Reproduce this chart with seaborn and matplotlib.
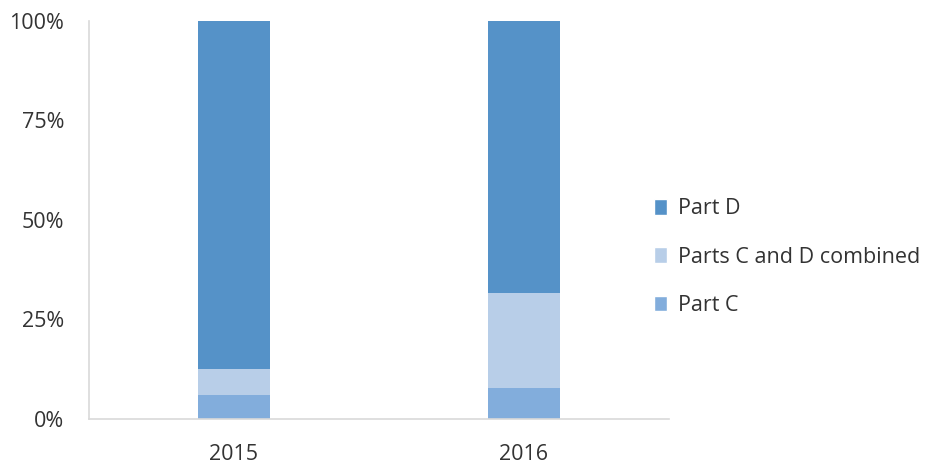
import matplotlib
matplotlib.use("Agg")
import matplotlib.pyplot as plt
import seaborn as sns
import pandas as pd
from matplotlib.patches import Patch
from matplotlib.ticker import FuncFormatter

years = ["2015", "2016"]
part_c = [5.9, 7.7]
combined = [6.5, 23.8]
part_d = [87.6, 68.5]
series_names = ["Part C", "Parts C and D combined", "Part D"]
colors = ["#82ADDC", "#B8CEE8", "#5592C8"]
yticks = [0, 25, 50, 75, 100]

sns.set_style("white")
plt.rcParams['font.family'] = ['Open Sans', 'DejaVu Sans']

fig = plt.figure(figsize=(9.38, 4.65), dpi=100)
ax = fig.add_axes([0.0949, 0.1, 0.618, 0.855])

df = pd.DataFrame({"year": years, "c": part_c, "cd": combined, "d": part_d})
bottom = [0.0] * len(years)
for col, name, colr in zip(["c", "cd", "d"], series_names, colors):
    sns.barplot(data=df, x="year", y=col, bottom=bottom, color=colr, width=0.25,
                ax=ax, saturation=1, edgecolor="none", linewidth=0)
    bottom = [b + v for b, v in zip(bottom, df[col])]

ax.set_ylim(0, 100)
ax.set_xlim(-0.5, 1.5)
ax.set_yticks(yticks)
ax.yaxis.set_major_formatter(FuncFormatter(lambda v, p: f"{int(v)}%"))
ax.set_xlabel("")
ax.set_ylabel("")
ax.tick_params(axis="both", length=0, labelsize=15.5, colors="#333333")
ax.tick_params(axis="x", pad=18)
ax.tick_params(axis="y", pad=18)
for s in ["top", "right"]:
    ax.spines[s].set_visible(False)
for s in ["left", "bottom"]:
    ax.spines[s].set_color("#D9D9D9")
    ax.spines[s].set_linewidth(1.2)

handles = [Patch(facecolor=c, label=n) for c, n in zip(colors[::-1], series_names[::-1])]
fig.legend(handles=handles, loc="center left", bbox_to_anchor=(0.677, 0.447),
           frameon=False, fontsize=15.5, handlelength=0.6, handleheight=0.75,
           handletextpad=0.5, labelspacing=1.27, labelcolor="#333333")

fig.savefig("out.png", dpi=100)
